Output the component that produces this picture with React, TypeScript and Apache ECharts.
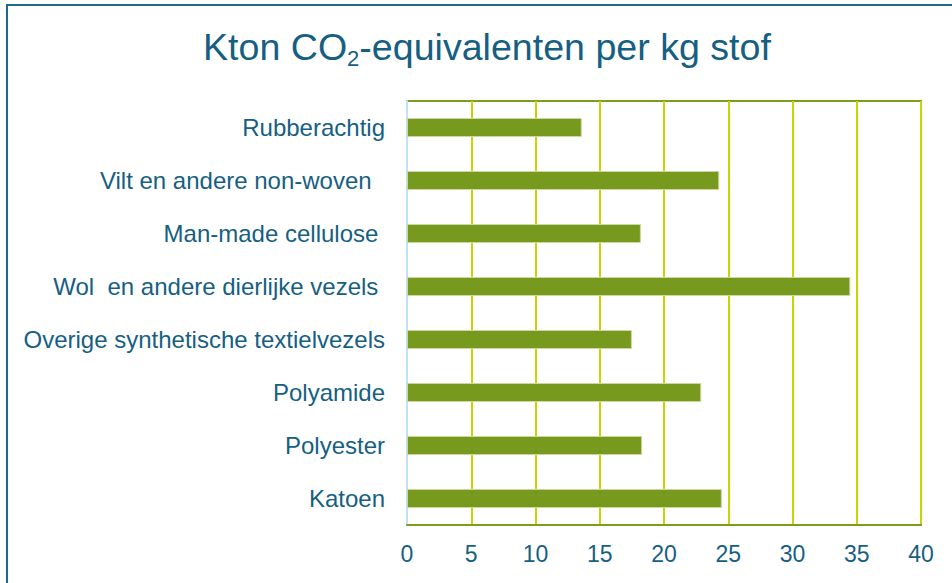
import React, { useEffect, useRef } from "react";
import * as echarts from "echarts";

const categories = [
  "Katoen",
  "Polyester",
  "Polyamide",
  "Overige synthetische textielvezels",
  "Wol  en andere dierlijke vezels ",
  "Man-made cellulose ",
  "Vilt en andere non-woven  ",
  "Rubberachtig",
];
const values = [24.5, 18.3, 22.9, 17.5, 34.5, 18.2, 24.3, 13.6];
const xMin = 0;
const xMax = 40;
const xStep = 5;

const TEXT = "#165f82";
const FONT = "Liberation Sans, Arial, sans-serif";

export default function App() {
  const ref = useRef<HTMLDivElement>(null);
  useEffect(() => {
    if (!ref.current) return;
    const chart = echarts.init(ref.current, undefined, { renderer: "svg" });
    chart.setOption({
      animation: false,
      backgroundColor: "#ffffff",
      textStyle: { fontFamily: FONT },
      title: {
        left: 198,
        top: 20,
        text: "{a|Kton CO}{s|2}{a|-equivalenten per kg stof}",
        textStyle: {
          fontWeight: "normal",
          rich: {
            a: { fontSize: 37.6, color: TEXT, fontFamily: FONT, fontWeight: "normal", lineHeight: 44, verticalAlign: "middle" },
            s: { fontSize: 22, color: TEXT, fontFamily: FONT, fontWeight: "normal", lineHeight: 22, verticalAlign: "bottom" },
          },
        },
      },
      graphic: [
        {
          type: "rect",
          shape: { x: 7, y: 5, width: 1000, height: 700 },
          style: { fill: "none", stroke: "#1d6a8e", lineWidth: 2 },
          silent: true,
        },
      ],
      grid: {
        left: 407,
        right: 31,
        top: 101,
        bottom: 58,
        show: true,
        borderColor: "#7a9e1e",
        borderWidth: 2,
        backgroundColor: "transparent",
      },
      xAxis: {
        type: "value",
        min: xMin,
        max: xMax,
        interval: xStep,
        axisLine: { show: true, lineStyle: { color: "#7a9e1e", width: 2 } },
        axisTick: { show: false },
        axisLabel: { color: TEXT, fontSize: 23, margin: 17, fontFamily: FONT },
        splitLine: { show: true, lineStyle: { color: "#c8d500", width: 2 } },
      },
      yAxis: {
        type: "category",
        data: categories,
        axisLine: { show: true, lineStyle: { color: "#bfe3f2", width: 2 } },
        axisTick: { show: false },
        axisLabel: { color: TEXT, fontSize: 24, margin: 22, fontFamily: FONT },
        splitLine: { show: false },
      },
      series: [
        {
          type: "bar",
          data: values,
          barWidth: 19,
          itemStyle: { color: "#76991e", borderColor: "#c9d89c", borderWidth: 1 },
        },
      ],
    });
    return () => chart.dispose();
  }, []);
  return (
    <div
      ref={ref}
      style={{ position: "absolute", left: 0, top: 0, width: 952, height: 583, background: "#fff" }}
    />
  );
}
